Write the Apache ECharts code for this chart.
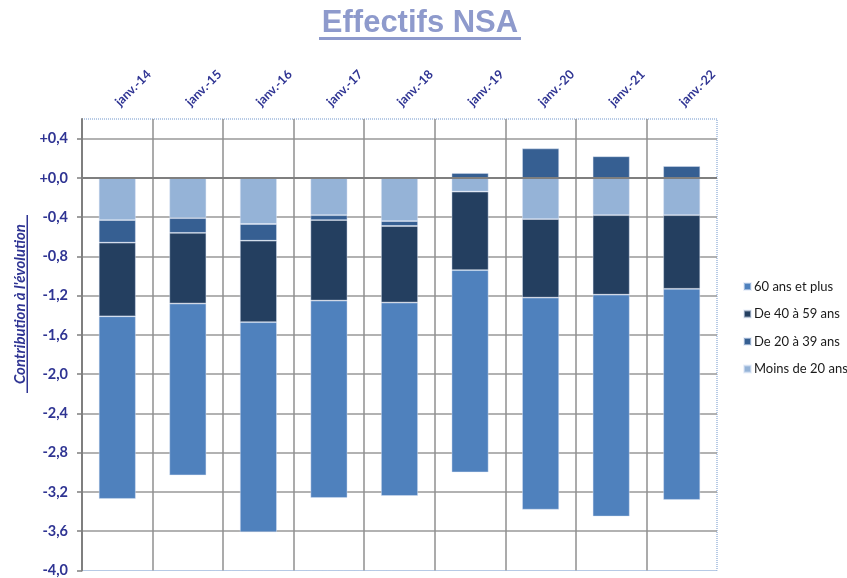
<!DOCTYPE html>
<html>
<head>
<meta charset="utf-8">
<script src="https://cdn.jsdelivr.net/npm/echarts@6/dist/echarts.min.js"></script>
<style>
html,body{margin:0;padding:0;background:#fff;}
#chart{width:847px;height:578px;}
</style>
</head>
<body>
<div id="chart"></div>
<script>
const categories = ['janv.-14','janv.-15','janv.-16','janv.-17','janv.-18','janv.-19','janv.-20','janv.-21','janv.-22'];
const moins20 = [-0.43,-0.41,-0.47,-0.38,-0.44,-0.14,-0.42,-0.38,-0.38];
const de20a39 = [-0.23,-0.15,-0.17,-0.05,-0.05,0.05,0.30,0.22,0.12];
const de40a59 = [-0.75,-0.72,-0.83,-0.82,-0.78,-0.80,-0.80,-0.81,-0.75];
const plus60 = [-1.86,-1.75,-2.14,-2.01,-1.97,-2.06,-2.16,-2.26,-2.15];
const seriesNames = ['Moins de 20 ans','De 20 à 39 ans','De 40 à 59 ans','60 ans et plus'];
const legendOrder = ['60 ans et plus','De 40 à 59 ans','De 20 à 39 ans','Moins de 20 ans'];
const yMin = -4.0, yMax = 0.6, yStep = 0.4;

const colors = {'Moins de 20 ans':'#95B3D7','De 20 à 39 ans':'#365F92','De 40 à 59 ans':'#243F60','60 ans et plus':'#4F81BD'};
const dataMap = {'Moins de 20 ans':moins20,'De 20 à 39 ans':de20a39,'De 40 à 59 ans':de40a59,'60 ans et plus':plus60};
const labelColor = '#2F3493';

const chart = echarts.init(document.getElementById('chart'), null, {renderer:'canvas'});

const series = seriesNames.map((n, i) => {
  const s = {
    name: n,
    type: 'bar',
    stack: 'total',
    barWidth: 37,
    data: dataMap[n],
    itemStyle: {color: colors[n], borderColor: 'rgba(220,230,245,0.55)', borderWidth: 0.8},
    emphasis: {disabled: true}
  };
  if (i === 0) {
    s.markLine = {
      silent: true, symbol: ['none','none'], z: 10,
      label: {show: false},
      lineStyle: {color: '#7F7F7F', width: 2, type: 'solid'},
      data: [{yAxis: 0}]
    };
  }
  return s;
});

chart.setOption({
  animation: false,
  backgroundColor: '#fff',
  grid: {left: 82, top: 119, right: 130, bottom: 6, show: true, borderColor: '#6F95CB', borderWidth: 1, borderType: 'dotted', containLabel: false},
  legend: {
    data: legendOrder,
    orient: 'vertical',
    left: 738, top: 275,
    itemWidth: 7, itemHeight: 7, itemGap: 14.5,
    icon: 'rect',
    textStyle: {fontFamily: 'Lato', fontSize: 13, color: '#1a1a1a', padding: [0,0,0,-2]}
  },
  xAxis: {
    type: 'category',
    position: 'top',
    data: categories,
    axisLine: {show: false},
    axisTick: {show: false},
    axisLabel: {rotate: 45, margin: 15, color: labelColor, fontFamily: 'Lato', fontWeight: 'bold', fontSize: 12.5},
    splitLine: {show: true, showMinLine: false, showMaxLine: false, lineStyle: {color: '#8F8F8F', width: 1.5}}
  },
  yAxis: {
    type: 'value',
    min: yMin, max: yMax, interval: yStep,
    axisLine: {show: true, lineStyle: {color: '#7F7F7F', width: 2}},
    axisTick: {show: true, length: 5, lineStyle: {color: '#7F7F7F', width: 1.5}},
    axisLabel: {
      margin: 14, color: labelColor, fontFamily: 'Lato', fontWeight: 'bold', fontSize: 14.5,
      showMaxLabel: false,
      formatter: v => (v > 0.5 ? '' : ((v >= 0 ? '+' : '') + v.toFixed(1).replace('.', ',')))
    },
    splitLine: {show: true, showMinLine: false, showMaxLine: false, lineStyle: {color: '#999999', width: 1.5}}
  },
  graphic: [
    {type: 'text', x: 420, y: 23, style: {text: 'Effectifs NSA', font: 'bold 31px "Liberation Sans", Arial, sans-serif', fill: '#8E9ACC', align: 'center', verticalAlign: 'middle'}},
    {type: 'rect', shape: {x: 319, y: 37, width: 202, height: 3}, style: {fill: '#8E9ACC'}},
    {type: 'text', x: 20, y: 304, rotation: Math.PI / 2, style: {text: "Contribution à l'évolution", font: 'italic bold 15px Lato, sans-serif', fill: labelColor, align: 'center', verticalAlign: 'middle'}},
    {type: 'rect', shape: {x: 26.5, y: 215, width: 1.5, height: 178}, style: {fill: labelColor}}
  ],
  series: series
});
</script>
</body>
</html>
